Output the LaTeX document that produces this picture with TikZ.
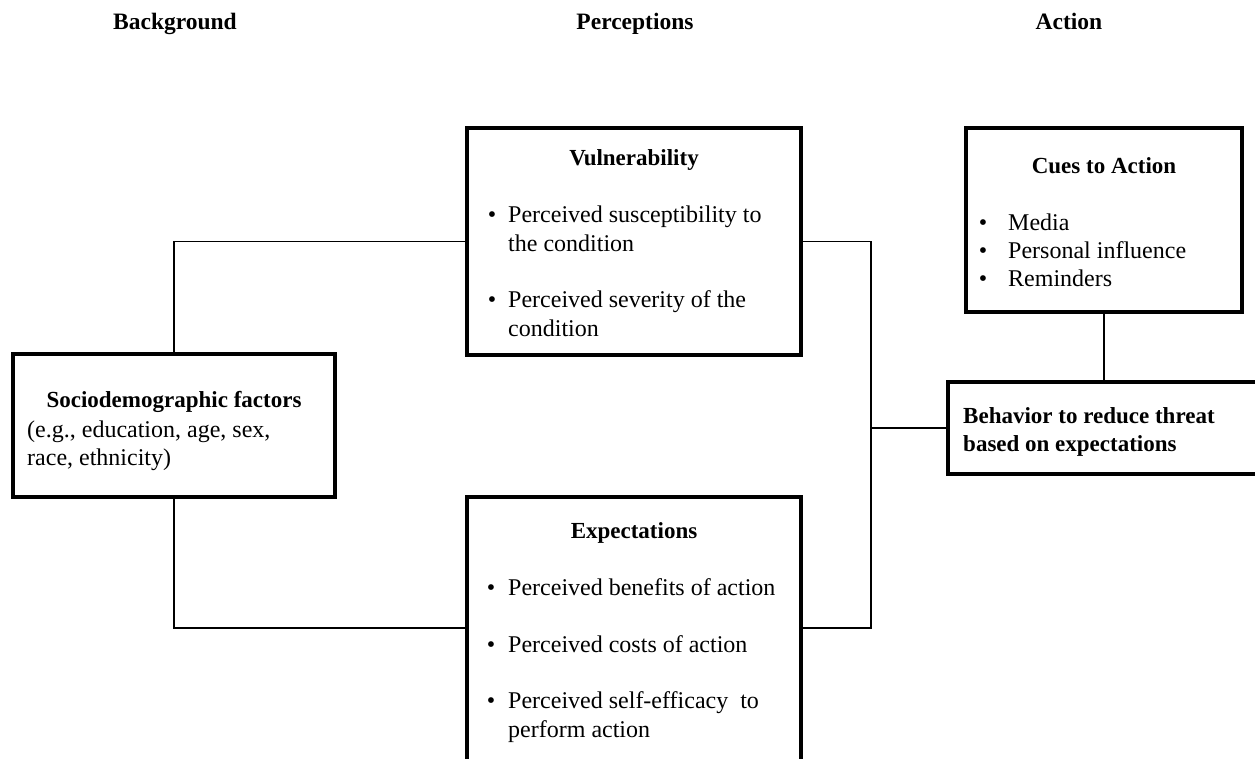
\documentclass[tikz,border=0pt]{standalone}
\usepackage{fontspec}
\setmainfont{Liberation Serif}
\usetikzlibrary{positioning}

\tikzset{
  box/.style={draw, line width=3.4pt, inner sep=0pt},
  link/.style={draw, line width=1.4pt},
  head/.style={font=\fontsize{23.5}{28}\selectfont\bfseries, anchor=base, inner sep=0pt},
  title/.style={font=\fontsize{23}{28}\selectfont\bfseries, anchor=base, inner sep=0pt},
  body/.style={font=\fontsize{24}{29}\selectfont, align=left, anchor=base west, inner sep=0pt},
  dot/.style={font=\fontsize{24}{29}\selectfont, anchor=base, inner sep=0pt},
}

\begin{document}
\begin{tikzpicture}[x=1pt, y=-1pt]
\useasboundingbox (0,0) rectangle (1255,758);
\fill[white] (0,0) rectangle (1255,758);
\clip (0,0) rectangle (1255,758);

% column heads
\node[head] (hbg) at (175,29) {Background};
\node[head] (hper) at (635,29) {Perceptions};
\node[head] (hact) at (1069,29) {Action};

% boxes
\node[box, minimum width=322pt, minimum height=143pt] (soc) at (174,425.5) {};
\node[box, minimum width=334pt, minimum height=227pt] (vul) at (634,241.5) {};
\node[box, minimum width=334pt, minimum height=268pt] (exp) at (634,631) {};
\node[box, minimum width=276pt, minimum height=184pt] (cue) at (1104,220) {};
\node[box, minimum width=322pt, minimum height=92pt] (beh) at (1109,428) {};

% background (multi-line nodes sit on their last baseline)
\node[title] (soct) at (174,407) {Sociodemographic factors};
\node[body, font=\fontsize{24}{28}\selectfont] (socb) at (27,465) {(e.g., education, age, sex,\\race, ethnicity)};

% vulnerability
\node[title] (vult) at (634,165) {Vulnerability};
\node[dot] (vd1) at (492,222) {\textbullet};
\node[body] (v1) at (508,251) {Perceived susceptibility to\\the condition};
\node[dot] (vd2) at (492,307) {\textbullet};
\node[body] (v2) at (508,336) {Perceived severity of the\\condition};

% expectations
\node[title] (expt) at (634,538) {Expectations};
\node[dot] (ed1) at (491,595) {\textbullet};
\node[body] (e1) at (508,595) {Perceived benefits of action};
\node[dot] (ed2) at (491,652) {\textbullet};
\node[body] (e2) at (508,652) {Perceived costs of action};
\node[dot] (ed3) at (491,708) {\textbullet};
\node[body] (e3) at (508,737) {Perceived self-efficacy\ \ to\\perform action};

% cues
\node[title] (cuet) at (1104,173) {Cues to Action};
\node[dot] (cd1) at (983,230) {\textbullet};
\node[body] (c1) at (1008,230) {Media};
\node[dot] (cd2) at (983,258) {\textbullet};
\node[body] (c2) at (1008,258) {Personal influence};
\node[dot] (cd3) at (983,286) {\textbullet};
\node[body] (c3) at (1008,286) {Reminders};

% behavior
\node[body, font=\fontsize{23}{28}\selectfont\bfseries] (beht) at (963,451) {Behavior to reduce threat\\based on expectations};

% links
\coordinate (jn) at (871,428);
\draw[link] (soc.north) |- (vul.west);
\draw[link] (soc.south) |- ([yshift=3pt]exp.west);
\draw[link] (vul.east) -| (jn) |- ([yshift=3pt]exp.east);
\draw[link] (jn) -- (beh.west);
\draw[link] (cue.south) -- (cue.south |- beh.north);
\end{tikzpicture}
\end{document}
